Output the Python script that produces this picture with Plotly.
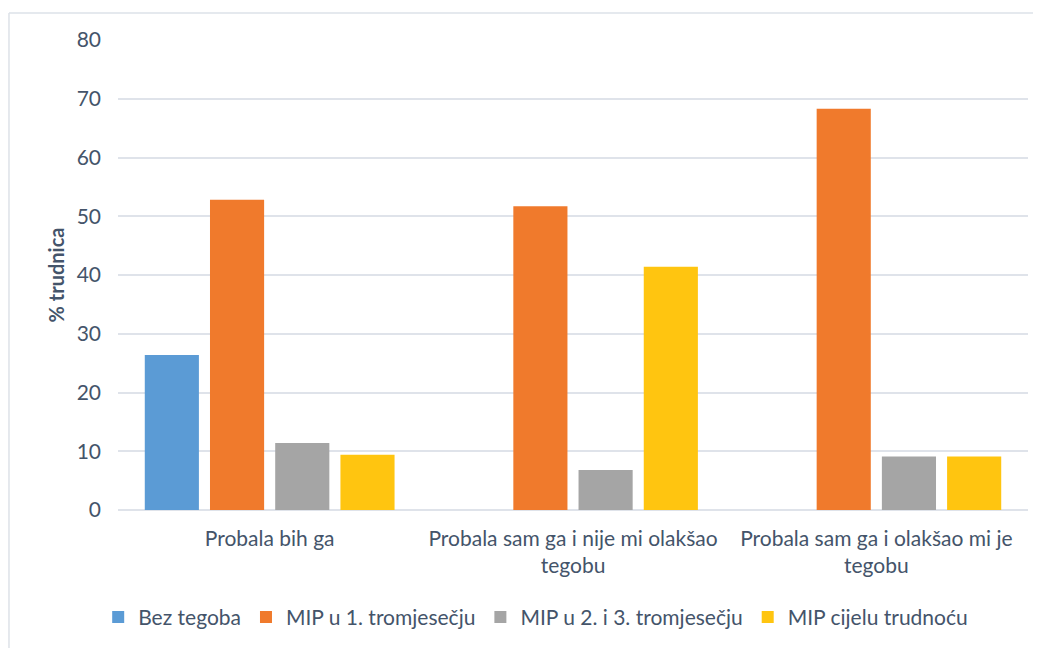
import plotly.graph_objects as go

categories = ["Probala bih ga", "Probala sam ga i nije mi olakšao<br>tegobu", "Probala sam ga i olakšao mi je<br>tegobu"]
series_names = ["Bez tegoba", "MIP u 1. tromjesečju", "MIP u 2. i 3. tromjesečju", "MIP cijelu trudnoću"]
bez_tegoba = [26.4, None, None]
mip_1 = [52.8, 51.7, 68.3]
mip_23 = [11.4, 6.8, 9.1]
mip_cijelu = [9.4, 41.4, 9.1]
colors = ["#5B9BD5", "#F07A2C", "#A5A5A5", "#FFC510"]
y_ticks = [0, 10, 20, 30, 40, 50, 60, 70, 80]

fig = go.Figure()
for name, vals, col in zip(series_names, [bez_tegoba, mip_1, mip_23, mip_cijelu], colors):
    fig.add_trace(go.Bar(x=categories, y=vals, name=name, marker=dict(color=col, line=dict(width=0))))

font_family = "Lato, 'Open Sans', sans-serif"
text_color = "#44546A"
border = "#DDE2E8"
fig.update_layout(
    width=1041, height=648,
    margin=dict(l=110, r=21, t=32, b=146, autoexpand=False),
    paper_bgcolor="white", plot_bgcolor="white",
    barmode="group", bargap=0.14, bargroupgap=0.17,
    font=dict(family=font_family, size=21, color=text_color),
    legend=dict(orientation="h", x=0.459, xanchor="center", y=-0.185, yanchor="top",
                font=dict(size=21, color=text_color), itemwidth=30, traceorder="normal"),
    xaxis=dict(showgrid=False, showline=False, ticks="", automargin=False, ticklabelstandoff=14,
               tickfont=dict(size=21, color=text_color)),
    yaxis=dict(range=[0, 80], tickvals=y_ticks, showgrid=True, gridcolor="#DFE3EA", gridwidth=1.5,
               zeroline=True, zerolinecolor="#DFE3EA", zerolinewidth=1.5, showline=False, automargin=False,
               ticks="", ticklabelstandoff=16, tickfont=dict(size=21, color=text_color),
               title=dict(text="<b>% trudnica</b>", font=dict(size=20, color=text_color), standoff=6)),
    shapes=[
        dict(type="line", xref="paper", yref="paper", x0=-0.1198, x1=1.0143, y0=1.0574, y1=1.0574,
             line=dict(color=border, width=1.5)),
        dict(type="line", xref="paper", yref="paper", x0=-0.1198, x1=-0.1198, y0=1.0574, y1=-0.31,
             line=dict(color=border, width=1.5)),
    ],
)
fig.write_html("out.html")
